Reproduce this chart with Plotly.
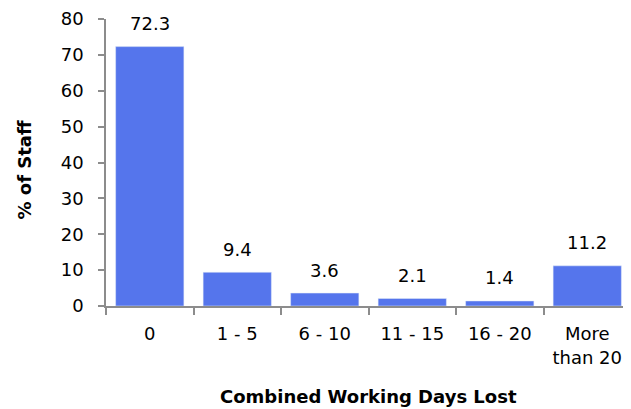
import plotly.graph_objects as go

categories = ["0", "1 - 5", "6 - 10", "11 - 15", "16 - 20", "More<br>than 20"]
pct_staff = [72.3, 9.4, 3.6, 2.1, 1.4, 11.2]
y_title = "% of Staff"
x_title = "Combined Working Days Lost"

FONT = "DejaVu Sans, Verdana, sans-serif"
GREY = "#8c8c8c"

fig = go.Figure(go.Bar(
    x=categories, y=pct_staff,
    marker_color="#5575EC",
    width=0.78,
))

# value labels sit a fixed distance above each bar
for c, v in zip(categories, pct_staff):
    fig.add_annotation(x=c, y=v, text=f"{v:.1f}", showarrow=False,
                       yanchor="middle", yshift=23,
                       font=dict(size=18, color="black", family=FONT))

# axis titles
fig.add_annotation(xref="paper", yref="paper", x=0, y=0.472, xshift=-81,
                   text=f"<b>{y_title}</b>", textangle=-90, showarrow=False,
                   xanchor="center", yanchor="middle",
                   font=dict(size=18, color="black", family=FONT))
fig.add_annotation(xref="paper", yref="paper", x=0.5, y=0, yshift=-90,
                   text=f"<b>{x_title}</b>", showarrow=False,
                   xanchor="center", yanchor="middle",
                   font=dict(size=18, color="black", family=FONT))

# page body adds 8px, so the figure is a bit smaller than the window
fig.update_layout(
    width=623, height=401,
    margin=dict(l=98, r=0, t=11, b=103),
    paper_bgcolor="white", plot_bgcolor="white",
    font=dict(family=FONT, size=18, color="black"),
    showlegend=False,
)
fig.update_yaxes(
    range=[0, 80], dtick=10, automargin=False,
    showgrid=False, zeroline=False,
    showline=True, linecolor=GREY, linewidth=1.5,
    ticks="outside", ticklen=6, tickcolor=GREY, tickwidth=1.5,
    ticklabelstandoff=11, ticklabeloverflow="allow",
)
fig.update_xaxes(
    automargin=False,
    showline=True, linecolor=GREY, linewidth=1.5,
    ticks="outside", ticklen=7, tickcolor=GREY, tickwidth=1.5,
    tickson="boundaries", ticklabelstandoff=11,
)

fig.write_html("out.html")
